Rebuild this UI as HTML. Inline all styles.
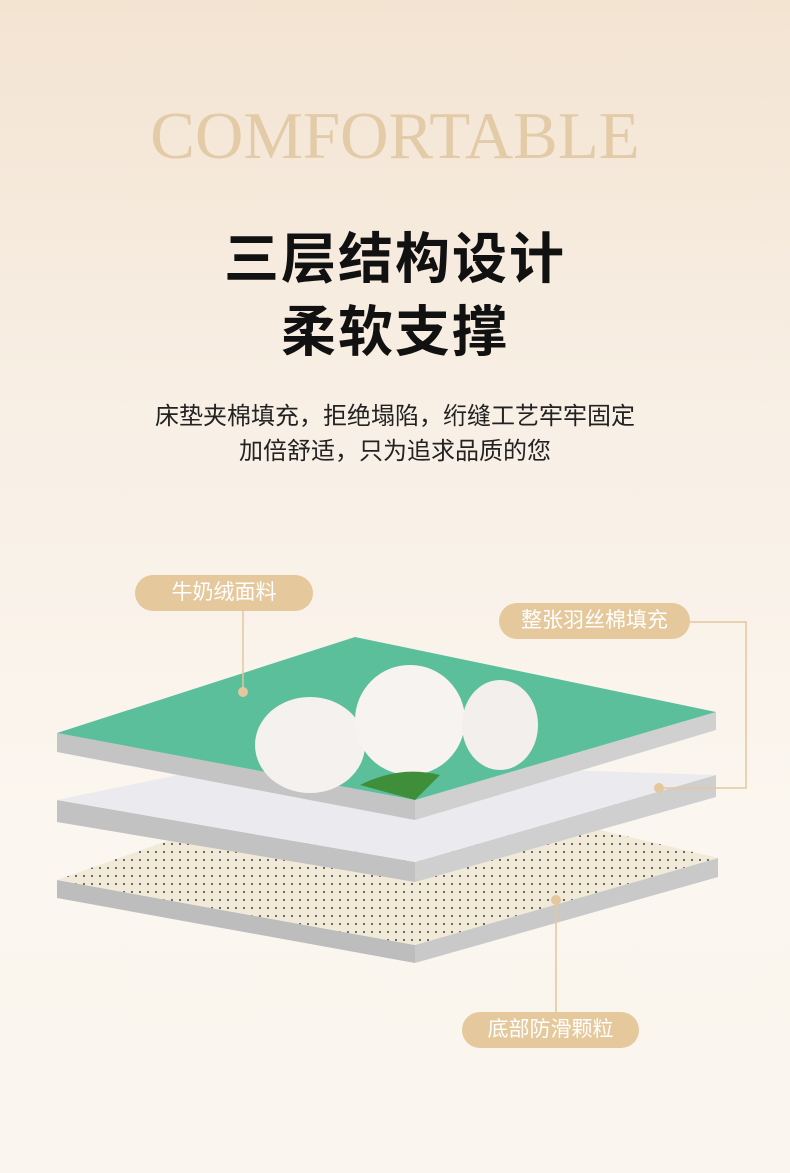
<!DOCTYPE html>
<html><head><meta charset="utf-8"><style>
body{margin:0;width:790px;height:1173px;overflow:hidden;background:linear-gradient(#f3e4d2 0%,#f8efe5 35%,#fbf6ef 70%,#faf5ee 100%);font-family:"Liberation Sans","Noto Sans CJK SC",sans-serif;position:relative}
.t{position:absolute;left:0;width:790px;text-align:center}
.pill{position:absolute;background:#e5c89c;color:#fff;border-radius:18px;height:36px;line-height:36px;text-align:center;font-size:21px}
</style></head><body>
<div class="t" style="top:98px;font-family:'Liberation Serif',serif;font-size:67px;color:#e3cba8;font-weight:300">COMFORTABLE</div>
<div class="t" style="top:214px;font-size:55px;font-weight:bold;color:#111;letter-spacing:2px">三层结构设计</div>
<div class="t" style="top:287px;font-size:55px;font-weight:bold;color:#111;letter-spacing:2px">柔软支撑</div>
<div class="t" style="top:396px;font-size:24px;color:#222">床垫夹棉填充，拒绝塌陷，绗缝工艺牢牢固定</div>
<div class="t" style="top:431px;font-size:24px;color:#222">加倍舒适，只为追求品质的您</div>
<svg style="position:absolute;left:0;top:0" width="790" height="1173">
<defs>
<pattern id="dots" width="8" height="8" patternUnits="userSpaceOnUse"><rect width="8" height="8" fill="#f1ead8"/><circle cx="4" cy="4" r="1" fill="#444"/></pattern>
</defs>
<polygon points="57,880 415,945 415,963 57,898" fill="#bdbdbd"/>
<polygon points="415,945 718,858 718,877 415,963" fill="#c9c9c9"/>
<polygon points="57,880 170,840 600,830 718,858 415,945" fill="url(#dots)"/>
<polygon points="57,800 415,862 415,882 57,822" fill="#c2c2c2"/>
<polygon points="415,862 716,775 716,797 415,882" fill="#cfcfcf"/>
<polygon points="57,800 250,760 716,775 415,862" fill="#ebebef"/>
<polygon points="57,733 415,800 415,820 57,752" fill="#c4c4c4"/>
<polygon points="415,800 716,712 716,730 415,820" fill="#d0d0d0"/>
<polygon points="57,733 355,637 716,712 415,800" fill="#5cbf9c"/>
<ellipse cx="310" cy="745" rx="55" ry="48" fill="#f4f1ee"/>
<ellipse cx="410" cy="720" rx="55" ry="55" fill="#f6f3f0"/>
<ellipse cx="500" cy="725" rx="38" ry="45" fill="#f2efec"/>
<path d="M360,785 Q400,765 440,775 L415,800 Z" fill="#3f8f3a"/>
<g stroke="#e4c79d" stroke-width="1.5" fill="none">
<line x1="243" y1="610" x2="243" y2="692"/>
<polyline points="690,622 746,622 746,788 659,788"/>
<line x1="556" y1="900" x2="556" y2="1013"/>
</g>
<circle cx="243" cy="692" r="5" fill="#e4c79d"/>
<circle cx="659" cy="788" r="5" fill="#e4c79d"/>
<circle cx="556" cy="900" r="5" fill="#e4c79d"/>
</svg>
<div class="pill" style="left:135px;top:575px;width:178px">牛奶绒面料</div>
<div class="pill" style="left:499px;top:603px;width:191px">整张羽丝棉填充</div>
<div class="pill" style="left:462px;top:1012px;width:177px">底部防滑颗粒</div>
</body></html>
